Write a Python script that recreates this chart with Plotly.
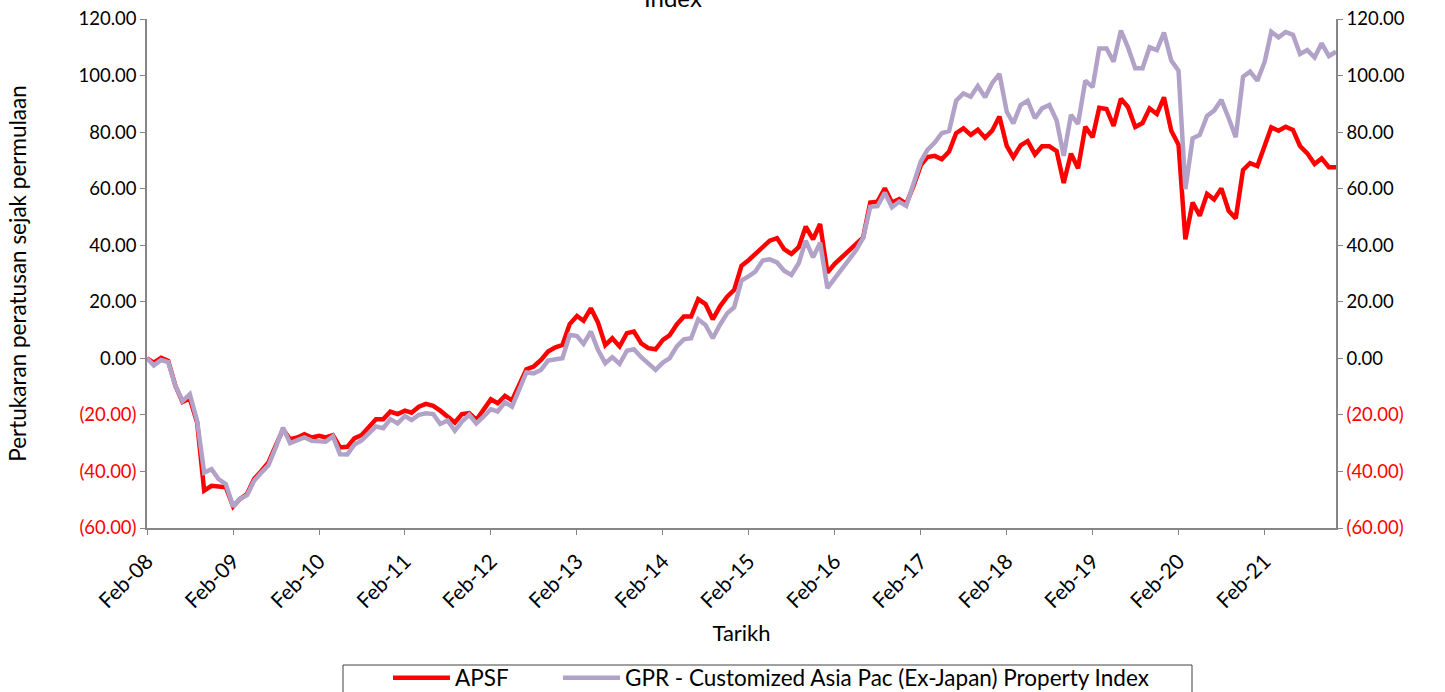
import plotly.graph_objects as go
import pandas as pd

# Monthly observations, Feb-08 .. Dec-21
dates = pd.date_range("2008-02-01", periods=167, freq="MS")

apsf = [
    0.0, -1.5, 0.2, -0.9, -9.8, -15.4, -14.2, -22.7, -46.8, -45.1, -45.3, -45.6,
    -52.4, -49.8, -48.0, -42.7, -39.8, -36.8, -30.9, -25.1, -28.6, -28.0, -26.8, -28.0,
    -27.4, -28.0, -27.2, -31.5, -31.3, -28.3, -27.1, -24.1, -21.5, -21.5, -18.8, -19.7,
    -18.5, -19.2, -17.1, -16.1, -16.8, -18.5, -20.6, -22.7, -19.7, -19.4, -21.8, -18.0,
    -14.5, -15.9, -13.3, -14.9, -8.8, -3.9, -2.9, -0.6, 2.4, 3.9, 4.7, 12.1,
    15.0, 13.3, 17.7, 12.7, 4.7, 7.1, 4.2, 8.9, 9.5, 5.3, 3.6, 3.2,
    6.5, 8.1, 12.0, 14.8, 14.8, 20.9, 19.2, 13.8, 18.3, 21.8, 24.2, 32.7,
    34.8, 36.9, 38.9, 41.6, 42.5, 38.6, 36.9, 39.3, 46.6, 42.1, 47.5, 30.3,
    33.4, 35.7, 38.3, 40.7, 42.8, 55.1, 55.4, 60.1, 55.1, 56.3, 54.6, 61.0,
    68.3, 71.2, 71.6, 70.4, 73.1, 79.6, 81.3, 79.0, 80.8, 78.0, 80.5, 85.5,
    75.1, 71.1, 75.3, 76.8, 72.1, 75.0, 75.0, 73.3, 62.0, 72.4, 67.2, 81.9,
    78.2, 88.6, 88.2, 82.2, 91.8, 88.9, 81.8, 83.2, 88.4, 86.4, 92.3, 80.5,
    75.5, 42.1, 55.1, 50.4, 58.1, 56.2, 60.1, 52.2, 49.5, 66.6, 69.0, 68.0,
    74.9, 81.7, 80.5, 81.9, 80.8, 75.1, 72.5, 68.7, 70.7, 67.6, 67.6,
]

gpr = [
    0.0, -2.5, -0.6, -1.3, -9.8, -15.1, -12.7, -22.1, -40.4, -39.2, -42.7, -44.5,
    -52.4, -49.8, -48.4, -43.3, -40.4, -37.8, -31.5, -24.5, -30.0, -28.8, -28.0, -29.2,
    -29.2, -29.5, -27.6, -33.9, -34.0, -30.5, -29.0, -26.5, -24.1, -24.7, -21.5, -23.0,
    -20.4, -21.8, -20.0, -19.4, -19.7, -23.2, -22.0, -25.6, -22.4, -20.0, -23.0, -20.6,
    -18.0, -18.8, -15.5, -17.1, -10.6, -5.0, -5.3, -4.1, -0.8, -0.3, 0.0, 8.3,
    7.9, 5.1, 9.5, 3.0, -1.7, 0.4, -2.0, 2.7, 3.2, 0.4, -1.7, -4.1,
    -1.5, 0.0, 4.2, 6.7, 7.1, 13.8, 11.8, 7.1, 11.8, 15.9, 18.1, 27.5,
    29.1, 30.7, 34.6, 35.0, 33.9, 31.0, 29.5, 33.6, 41.6, 35.7, 40.9, 24.8,
    28.3, 31.5, 34.6, 38.1, 42.6, 53.6, 53.8, 58.6, 53.4, 55.4, 53.9, 61.5,
    69.6, 73.7, 76.3, 79.6, 80.4, 91.1, 93.7, 92.5, 96.3, 92.3, 97.3, 100.6,
    87.2, 83.1, 89.6, 91.1, 84.9, 88.4, 89.6, 84.1, 71.6, 86.1, 82.9, 98.2,
    95.9, 109.6, 109.6, 104.9, 115.9, 110.0, 102.6, 102.6, 110.0, 109.0, 115.2, 105.3,
    101.7, 59.8, 77.8, 79.0, 85.7, 87.6, 91.4, 84.9, 78.2, 99.6, 101.4, 98.2,
    104.9, 115.5, 113.5, 115.4, 114.4, 107.6, 109.0, 106.4, 111.4, 106.9, 108.4,
]

series_names = ["APSF", "GPR - Customized Asia Pac (Ex-Japan) Property Index"]
series_colors = ["#ff0000", "#b3a2c7"]

x_tick_dates = pd.date_range("2008-02-01", "2021-02-01", freq="12MS")
x_tick_labels = [d.strftime("%b-%y") for d in x_tick_dates]

y_tick_vals = [-60, -40, -20, 0, 20, 40, 60, 80, 100, 120]


def fmt(v):
    if v < 0:
        return '<span style="color:#ff0000">(%.2f)</span>' % abs(v)
    return "%.2f" % v


y_tick_text = [fmt(v) for v in y_tick_vals]

FONT = "Lato"
AX = "#868686"

# plot-area pixel geometry
L, R, T, B = 147, 1336, 19, 528
W, H = 1445, 692


def px_x(p):
    return (p - L) / (R - L)


def px_y(p):
    return (B - p) / (B - T)


fig = go.Figure()
fig.add_trace(go.Scatter(x=dates, y=apsf, mode="lines", name=series_names[0],
                         line=dict(color=series_colors[0], width=4.5), yaxis="y",
                         legend="legend"))
fig.add_trace(go.Scatter(x=dates, y=gpr, mode="lines", name=series_names[1],
                         line=dict(color=series_colors[1], width=4.5), yaxis="y2",
                         legend="legend2"))

yax = dict(range=[-60, 120], tickvals=y_tick_vals, ticktext=y_tick_text,
           showline=True, linecolor=AX, linewidth=1.5, ticks="outside",
           ticklen=5, tickcolor=AX, showgrid=False, zeroline=False,
           tickfont=dict(family=FONT, size=18.5, color="black"))

leg_common = dict(orientation="h", yanchor="middle", y=px_y(678),
                  xanchor="left", bgcolor="rgba(0,0,0,0)", borderwidth=0,
                  font=dict(family=FONT, size=22.5, color="black"),
                  itemwidth=57)

fig.update_layout(
    width=W, height=H,
    margin=dict(l=L, r=W - R, t=T, b=H - B, autoexpand=False),
    plot_bgcolor="white", paper_bgcolor="white",
    font=dict(family=FONT, size=19, color="black"),
    xaxis=dict(type="date", range=[dates[0], dates[-1]],
               tickvals=list(x_tick_dates), ticktext=x_tick_labels,
               tickangle=-45, showline=True, linecolor=AX, linewidth=1.5,
               ticks="outside", ticklen=5, tickcolor=AX, showgrid=False,
               zeroline=False, tickfont=dict(family=FONT, size=21),
               ticklabelstandoff=6,
               title=dict(text="Tarikh", font=dict(family=FONT, size=22), standoff=14)),
    yaxis=dict(**yax, title=dict(text="Pertukaran peratusan sejak permulaan",
                                 font=dict(family=FONT, size=22.5), standoff=46)),
    yaxis2=dict(**yax, overlaying="y", side="right"),
    showlegend=True,
    legend=dict(**leg_common, x=px_x(388)),
    legend2=dict(**leg_common, x=px_x(558)),
    shapes=[dict(type="rect", xref="paper", yref="paper",
                 x0=px_x(343), x1=px_x(1192), y0=px_y(665), y1=px_y(700),
                 line=dict(color="#404040", width=1), fillcolor="rgba(0,0,0,0)",
                 layer="above")],
    annotations=[dict(text="Index", xref="paper", yref="paper",
                      x=px_x(673), y=px_y(-3),
                      xanchor="center", yanchor="middle", showarrow=False,
                      font=dict(family=FONT, size=24, color="black"))],
)

fig.write_html("out.html", config={"displayModeBar": False},
               post_script="document.body.style.margin='0';")
